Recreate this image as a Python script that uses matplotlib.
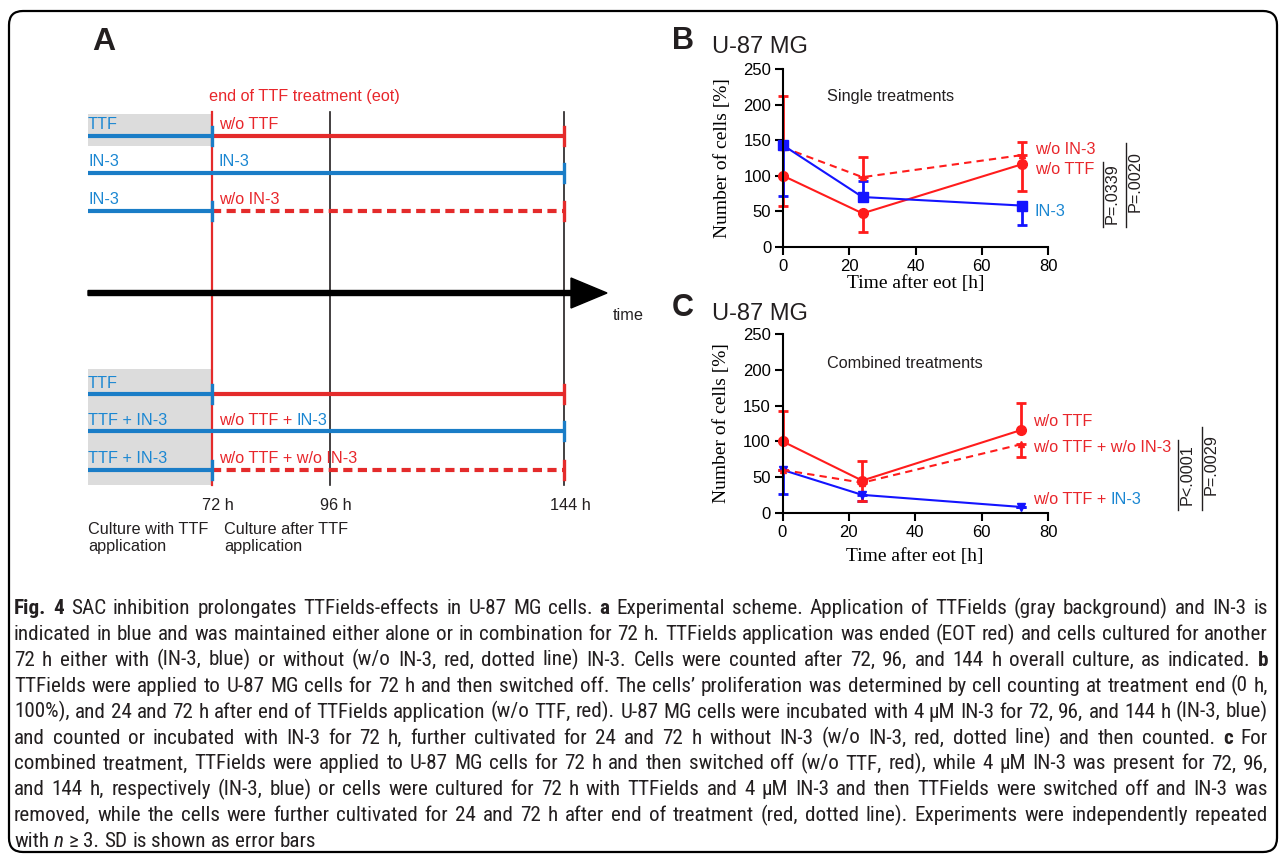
import matplotlib
matplotlib.use('Agg')
import matplotlib.pyplot as plt
from matplotlib import font_manager as fm
from matplotlib.patches import FancyBboxPatch, Rectangle

# ---- data ----
hours = [0, 24, 72]

# panel B, single treatments (err = [below, above])
b_wo_ttf = [100, 47, 116]
b_wo_ttf_err = [[42, 26, 37], [0, 0, 0]]
b_in3 = [143, 70, 58]
b_in3_err = [[71, 0, 28], [0, 22, 0]]
b_wo_in3 = [140, 98, 129]
b_wo_in3_err = [[0, 0, 0], [73, 28, 19]]

# panel C, combined treatments
c_wo_ttf = [100, 45, 116]
c_wo_ttf_err = [[0, 0, 0], [43, 27, 38]]
c_wo_both = [60, 42, 96]
c_wo_both_err = [[0, 26, 18], [0, 0, 0]]
c_in3 = [60, 25, 8]
c_in3_err = [[34, 8, 0], [0, 0, 0]]

b_pvals = ["P=.0339", "P=.0020"]
c_pvals = ["P<.0001", "P=.0029"]

# panel A scheme
scheme_hours = ["72 h", "96 h", "144 h"]
scheme_left = ["TTF", "IN-3", "IN-3", "TTF", "TTF + IN-3", "TTF + IN-3"]
scheme_after = ["off", "on", "removed", "off", "on", "removed"]

caption = [
    "*Fig.* *4* SAC inhibition prolongates TTFields-effects in U-87 MG cells. *a* Experimental scheme. Application of TTFields (gray background) and IN-3 is",
    "indicated in blue and was maintained either alone or in combination for 72 h. TTFields application was ended (EOT red) and cells cultured for another",
    "72 h either with (IN-3, blue) or without (w/o IN-3, red, dotted line) IN-3. Cells were counted after 72, 96, and 144 h overall culture, as indicated. *b*",
    "TTFields were applied to U-87 MG cells for 72 h and then switched off. The cells\u2019 proliferation was determined by cell counting at treatment end (0 h,",
    "100%), and 24 and 72 h after end of TTFields application (w/o TTF, red). U-87 MG cells were incubated with 4 \u00b5M IN-3 for 72, 96, and 144 h (IN-3, blue)",
    "and counted or incubated with IN-3 for 72 h, further cultivated for 24 and 72 h without IN-3 (w/o IN-3, red, dotted line) and then counted. *c* For",
    "combined treatment, TTFields were applied to U-87 MG cells for 72 h and then switched off (w/o TTF, red), while 4 \u00b5M IN-3 was present for 72, 96,",
    "and 144 h, respectively (IN-3, blue) or cells were cultured for 72 h with TTFields and 4 \u00b5M IN-3 and then TTFields were switched off and IN-3 was",
    "removed, while the cells were further cultivated for 24 and 72 h after end of treatment (red, dotted line). Experiments were independently repeated",
    "with _n_ \u2265 3. SD is shown as error bars",
]

SANS = ['Liberation Sans', 'DejaVu Sans']
SERIF = ['Liberation Serif', 'DejaVu Serif']

RED = '#ff1c1c'
BLUE = '#1414ff'
T_RED = '#e8262b'
T_BLUE = '#1b87d2'
A_RED = '#e42b2b'
A_BLUE = '#1a7dc7'
INK = '#231f20'
FS = 11.7

fig = plt.figure(figsize=(12.82, 8.58), dpi=100)
ax0 = fig.add_axes([0, 0, 1, 1])
ax0.set_xlim(0, 1282)
ax0.set_ylim(858, 0)
ax0.axis('off')
renderer = fig.canvas.get_renderer()


def width_of(t):
    return t.get_window_extent(renderer).width


def space_width(**kw):
    a = ax0.text(0, 0, "x x", **kw)
    b = ax0.text(0, 0, "xx", **kw)
    w = width_of(a) - width_of(b)
    a.remove()
    b.remove()
    return w


def colored_text(x, y, parts, size=FS):
    sp = space_width(fontsize=size, family=SANS)
    for s, c in parts:
        t = ax0.text(x, y, s, color=c, fontsize=size, family=SANS, va='center', ha='left')
        x += width_of(t) + sp


# outer frame
ax0.add_patch(FancyBboxPatch((9, 11), 1268, 841, boxstyle='round,pad=0,rounding_size=14',
                             fc='none', ec='black', lw=1.6))

# ---- panel A ----
ax0.text(92, 42, "A", fontsize=23, fontweight='bold', family=SANS, va='center', color=INK)
x0, x72, x96, x144 = 88, 212, 329.5, 564
row_y = [135.6, 173, 211, 394, 431.4, 469.6]

ax0.add_patch(Rectangle((x0, 114), x72 - x0, 31.6, fc='#dcdcdc', ec='none', zorder=0))
ax0.add_patch(Rectangle((x0, 368.6), x72 - x0, 116.4, fc='#dcdcdc', ec='none', zorder=0))

ax0.plot([x72, x72], [112, 485], color=A_RED, lw=1.6, zorder=1)
ax0.plot([x96, x96], [112, 485], color=INK, lw=1.2, zorder=1)
ax0.plot([x144, x144], [112, 485], color=INK, lw=1.2, zorder=1)
ax0.text(209, 97, "end of TTF treatment (eot)", color=T_RED, fontsize=FS, family=SANS, va='center')

for y, left, after in zip(row_y, scheme_left, scheme_after):
    ax0.text(x0, y - 11, left, color=T_BLUE, fontsize=FS, family=SANS, va='center')
    if after == 'on':
        ax0.plot([x0, x144], [y, y], color=A_BLUE, lw=3, solid_capstyle='butt', zorder=2)
        ax0.plot([x144, x144], [y - 9, y + 9], color=A_BLUE, lw=2.4, zorder=3)
    else:
        ax0.plot([x0, x72], [y, y], color=A_BLUE, lw=3, solid_capstyle='butt', zorder=2)
        ax0.plot([x72, x72], [y - 9, y + 9], color=A_BLUE, lw=2.4, zorder=3)
        ls = (0, (2.2, 1.3)) if after == 'removed' else '-'
        ax0.plot([x72, x144], [y, y], color=A_RED, lw=3, ls=ls, solid_capstyle='butt', zorder=2)
        ax0.plot([x144, x144], [y - 9, y + 9], color=A_RED, lw=2.4, zorder=3)

colored_text(219, row_y[0] - 11, [("w/o TTF", T_RED)])
colored_text(219, row_y[1] - 11, [("IN-3", T_BLUE)])
colored_text(219, row_y[2] - 11, [("w/o IN-3", T_RED)])
colored_text(219, row_y[4] - 11, [("w/o TTF +", T_RED), ("IN-3", T_BLUE)])
colored_text(219, row_y[5] - 11, [("w/o TTF + w/o IN-3", T_RED)])

ax0.arrow(88, 293, 519, 0, width=5, head_width=30, head_length=36,
          length_includes_head=True, color='black', zorder=3)
ax0.text(613, 315, "time", fontsize=FS, family=SANS, va='center', color=INK)

for xh, lab in zip([x72, x96, x144], scheme_hours):
    ax0.text(xh + 6, 505, lab, fontsize=FS, family=SANS, ha='center', va='center', color=INK)
ax0.text(x0, 538, "Culture with TTF\napplication", fontsize=FS, family=SANS, va='center',
         linespacing=1.2, color=INK)
ax0.text(224, 538, "Culture after TTF\napplication", fontsize=FS, family=SANS, va='center',
         linespacing=1.2, color=INK)


# ---- panels B and C ----
def curve_panel(ax, series):
    for y, err, color, ls, marker, ms in series:
        ax.errorbar(hours, y, yerr=err, color=color, ls=ls, marker=marker, ms=ms, lw=1.5,
                    elinewidth=2, capsize=3.6, capthick=2, clip_on=False)
    ax.set_xlim(0, 80)
    ax.set_ylim(0, 250)
    ax.set_xticks([0, 20, 40, 60, 80])
    ax.set_yticks([0, 50, 100, 150, 200, 250])
    ax.spines[['top', 'right']].set_visible(False)
    ax.spines[['left', 'bottom']].set_linewidth(1.5)
    ax.tick_params(length=6, width=1.5, labelsize=12, pad=2.5)
    for lab in ax.get_xticklabels() + ax.get_yticklabels():
        lab.set_family(SANS)
    ax.patch.set_alpha(0)
    ax.set_ylabel("Number of cells [%]", family=SERIF, fontsize=14, va='center')
    ax.set_xlabel("Time after eot [h]", family=SERIF, fontsize=14, va='center')


axB = fig.add_axes([783 / 1282, 1 - 246.7 / 858, 265 / 1282, 177.4 / 858])
curve_panel(axB, [
    (b_wo_ttf, b_wo_ttf_err, RED, '-', 'o', 7),
    (b_wo_in3, b_wo_in3_err, RED, (0, (3.5, 2.5)), '^', 5),
    (b_in3, b_in3_err, BLUE, '-', 's', 6.5),
])
axB.yaxis.set_label_coords(-0.23, 0.5)
axB.xaxis.set_label_coords(0.5, -0.205)

axC = fig.add_axes([782.5 / 1282, 1 - 512.7 / 858, 265.5 / 1282, 178.4 / 858])
curve_panel(axC, [
    (c_in3, c_in3_err, BLUE, '-', 'v', 6),
    (c_wo_both, c_wo_both_err, RED, (0, (3.5, 2.5)), '^', 5),
    (c_wo_ttf, c_wo_ttf_err, RED, '-', 'o', 7),
])
axC.yaxis.set_label_coords(-0.23, 0.503)
axC.xaxis.set_label_coords(0.5, -0.247)

for y, lab in [(41, "B"), (308, "C")]:
    ax0.text(672, y, lab, fontsize=22, fontweight='bold', family=SANS, va='center', color=INK)
    ax0.text(712, y + 6, "U-87 MG", fontsize=17, family=SANS, va='center', color=INK)

ax0.text(827, 96, "Single treatments", fontsize=FS, family=SANS, va='center', color=INK)
ax0.text(827, 364, "Combined treatments", fontsize=FS, family=SANS, va='center', color=INK)

colored_text(1035, 149, [("w/o IN-3", T_RED)])
colored_text(1035, 170, [("w/o TTF", T_RED)])
colored_text(1035, 212, [("IN-3", T_BLUE)])
colored_text(1033, 421, [("w/o TTF", T_RED)])
colored_text(1033, 448, [("w/o TTF + w/o IN-3", T_RED)])
colored_text(1033, 500, [("w/o TTF +", T_RED), ("IN-3", T_BLUE)])

# p-value brackets
for lab, xl, ytop, ybot, yc in zip(b_pvals + c_pvals,
                                   [1103, 1126, 1178, 1202],
                                   [162, 143, 440, 427],
                                   [227, 227, 510, 510],
                                   [194, 182, 475, 465]):
    ax0.plot([xl, xl], [ytop, ybot], color=INK, lw=1.0)
    ax0.text(xl + 9, yc, lab, rotation=90, fontsize=FS, family=SANS, ha='center', va='center',
             color=INK)


# ---- justified caption ----
def caption_words(line):
    out = []
    for w in line.split(' '):
        style = {}
        if len(w) > 1 and w.startswith('*') and w.endswith('*'):
            w = w[1:-1]
            style['weight'] = 'bold'
        elif len(w) > 1 and w.startswith('_') and w.endswith('_'):
            w = w[1:-1]
            style['style'] = 'italic'
        out.append((w, style))
    return out


cap_left, cap_right = 14, 1268
cap_width = cap_right - cap_left
cap_fs = 14.5
plain = [ln.replace('*', '').replace('_', '') for ln in caption]
longest_line = max(plain, key=len)


def natural_width(props):
    t = ax0.text(0, 0, longest_line, fontproperties=props)
    w = width_of(t)
    t.remove()
    return w


def weight_of(f):
    return f.weight if isinstance(f.weight, int) else fm.weight_dict.get(f.weight, 400)


# a narrow face of one of the plain sans families, if installed
OK_FAMILIES = ('Open Sans', 'Noto Sans', 'Roboto', 'Liberation Sans', 'DejaVu Sans', 'Lato', 'Inter')
faces = {}
for f in fm.fontManager.ttflist:
    if not f.name.startswith(OK_FAMILIES) or 'CJK' in f.name or 'Mono' in f.name:
        continue
    narrow_face = (f.stretch in ('condensed', 'semi-condensed')
                   or 'Narrow' in f.name or 'Condensed' in f.name)
    if narrow_face and f.style == 'normal':
        faces.setdefault((f.name, f.stretch), set()).add(weight_of(f))

best = None
for (name, stretch), wts in sorted(faces.items()):
    if 400 not in wts or not any(w >= 600 for w in wts):
        continue
    w = natural_width(fm.FontProperties(family=name, stretch=stretch, size=cap_fs))
    if w <= cap_width * 0.985 and (best is None or w > best[2]):
        best = (name, stretch, w)

if best is not None:
    cap_family, cap_stretch = best[0], best[1]
    # let the narrow face grow a little so the word gaps stay close to the original
    cap_fs = min(15.2, cap_fs * cap_width * 0.975 / best[2])
else:
    cap_family, cap_stretch = 'Liberation Sans', 'normal'
    w = natural_width(fm.FontProperties(family=cap_family, size=cap_fs))
    if w > cap_width * 0.985:
        cap_fs *= cap_width * 0.985 / w


def cap_props(**kw):
    return fm.FontProperties(family=[cap_family, 'DejaVu Sans'], stretch=cap_stretch,
                             size=cap_fs, **kw)


sp_a = ax0.text(0, 0, "x x", fontproperties=cap_props())
sp_b = ax0.text(0, 0, "xx", fontproperties=cap_props())
sp = width_of(sp_a) - width_of(sp_b)
sp_a.remove()
sp_b.remove()

for i, line in enumerate(caption):
    yb = 614 + i * 25.9
    texts = []
    for w, style in caption_words(line):
        texts.append(ax0.text(0, yb, w, fontproperties=cap_props(**style), va='baseline',
                              color=INK))
    widths = [width_of(t) for t in texts]
    if i < len(caption) - 1:
        gap = (cap_width - sum(widths)) / (len(texts) - 1)
    else:
        gap = sp
    x = cap_left
    for t, w in zip(texts, widths):
        t.set_x(x)
        x += w + gap

fig.savefig('out.png', dpi=100)
